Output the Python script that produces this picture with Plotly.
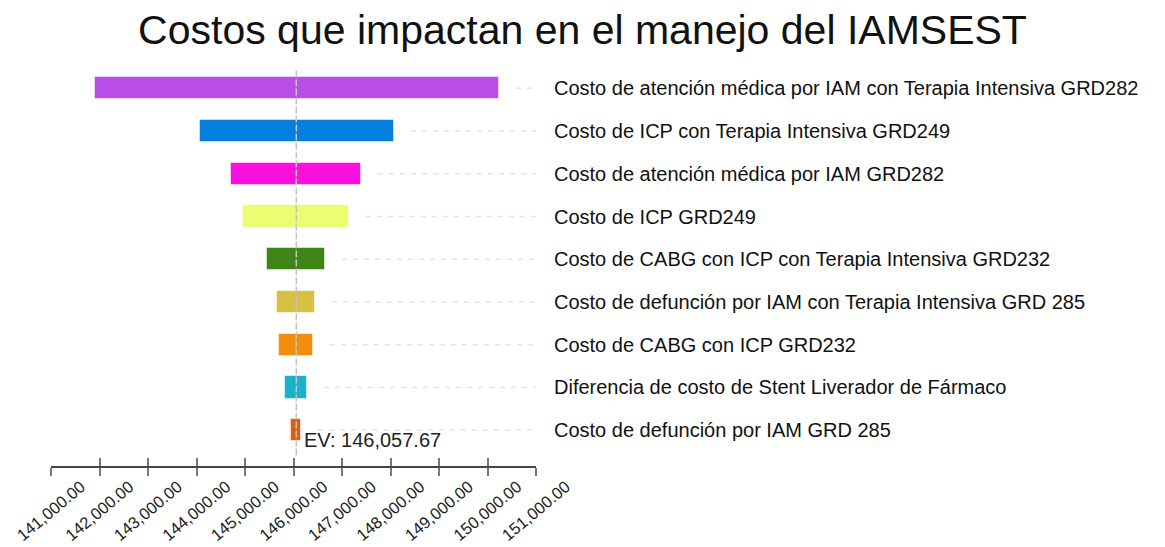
import plotly.graph_objects as go

title = "Costos que impactan en el manejo del IAMSEST"
categories = [
    "Costo de atención médica por IAM con Terapia Intensiva GRD282",
    "Costo de ICP con Terapia Intensiva GRD249",
    "Costo de atención médica por IAM GRD282",
    "Costo de ICP GRD249",
    "Costo de CABG con ICP con Terapia Intensiva GRD232",
    "Costo de defunción por IAM con Terapia Intensiva GRD 285",
    "Costo de CABG con ICP GRD232",
    "Diferencia de costo de Stent Liverador de Fármaco",
    "Costo de defunción por IAM GRD 285",
]
low_values = [141900, 144070, 144710, 144960, 145450, 145660, 145700, 145820, 145950]
high_values = [150240, 148070, 147390, 147140, 146650, 146440, 146400, 146280, 146150]
colors = ["#B84EE6", "#037FDD", "#FA0FDC", "#EBFD70", "#3E8517", "#D8C042",
          "#F28D0B", "#1CB1CB", "#DA5F0E"]
ev = 146057.67
tick_vals = [141000, 142000, 143000, 144000, 145000, 146000, 147000, 148000, 149000, 150000, 151000]
tick_text = ["141,000.00", "142,000.00", "143,000.00", "144,000.00", "145,000.00", "146,000.00",
             "147,000.00", "148,000.00", "149,000.00", "150,000.00", "151,000.00"]

FONT = "Liberation Sans, Arial, sans-serif"
x_min, x_max = 141000, 151000
rows = list(range(len(categories)))

fig = go.Figure()

# dashed guide lines from bar end to label
gap = 350
for i, hv in enumerate(high_values):
    fig.add_trace(go.Scatter(
        x=[hv + gap, x_max], y=[i, i], mode="lines",
        line=dict(color="#e3e3e3", width=1.5, dash="5px,6px"),
        hoverinfo="skip", showlegend=False))

fig.add_trace(go.Bar(
    y=rows, x=[h - l for l, h in zip(low_values, high_values)], base=low_values,
    orientation="h", width=0.52,
    marker=dict(color=colors, line=dict(color="rgba(255,255,255,0.5)", width=1)),
    showlegend=False))

# EV line
fig.add_trace(go.Scatter(
    x=[ev, ev], y=[-0.42, 8.62], mode="lines",
    line=dict(color="#c4c4c4", width=1.5, dash="7px,2px"),
    hoverinfo="skip", showlegend=False))

fig.add_annotation(x=ev, y=8.24, xref="x", yref="y", text=f"EV: {ev:,.2f}",
                   showarrow=False, xanchor="left", yanchor="middle", xshift=6,
                   font=dict(family=FONT, size=20, color="#222222"))

fig.update_layout(
    width=1157, height=539,
    margin=dict(l=43, r=629, t=59, b=81, autoexpand=False),
    paper_bgcolor="white", plot_bgcolor="white",
    title=dict(text=title, x=0.5 - 4 / 1157, xanchor="center", y=1 - 22 / 539, yanchor="middle",
               font=dict(family=FONT, size=41, color="#111111"), automargin=False),
    bargap=0,
    xaxis=dict(range=[x_min, x_max], tickvals=tick_vals, ticktext=tick_text,
               tickangle=-40, ticks="outside", ticklen=8, tickwidth=1.5, tickcolor="#777777",
               showline=True, linecolor="#444444", linewidth=1.5, showgrid=False, zeroline=False,
               automargin=False, ticklabelshift=30, ticklabelstandoff=-5,
               tickfont=dict(family=FONT, size=16.5, color="#222222")),
    xaxis2=dict(range=[x_min, x_max], tickvals=tick_vals, ticktext=["" for _ in tick_vals],
                overlaying="x", side="bottom", anchor="y", ticks="inside", ticklen=8,
                tickwidth=1.5, tickcolor="#777777", showgrid=False, zeroline=False,
                showline=False, showticklabels=False, automargin=False),
    yaxis=dict(range=[8.84, -0.5], tickvals=rows, ticktext=categories, side="right",
               ticks="", showgrid=False, zeroline=False, showline=False,
               ticklabelstandoff=17, automargin=False,
               tickfont=dict(family=FONT, size=20, color="#111111")),
)
# dummy trace to activate xaxis2
fig.add_trace(go.Scatter(x=[ev], y=[0], xaxis="x2", mode="markers",
                         marker=dict(opacity=0), hoverinfo="skip", showlegend=False))

fig.write_html("out.html")
